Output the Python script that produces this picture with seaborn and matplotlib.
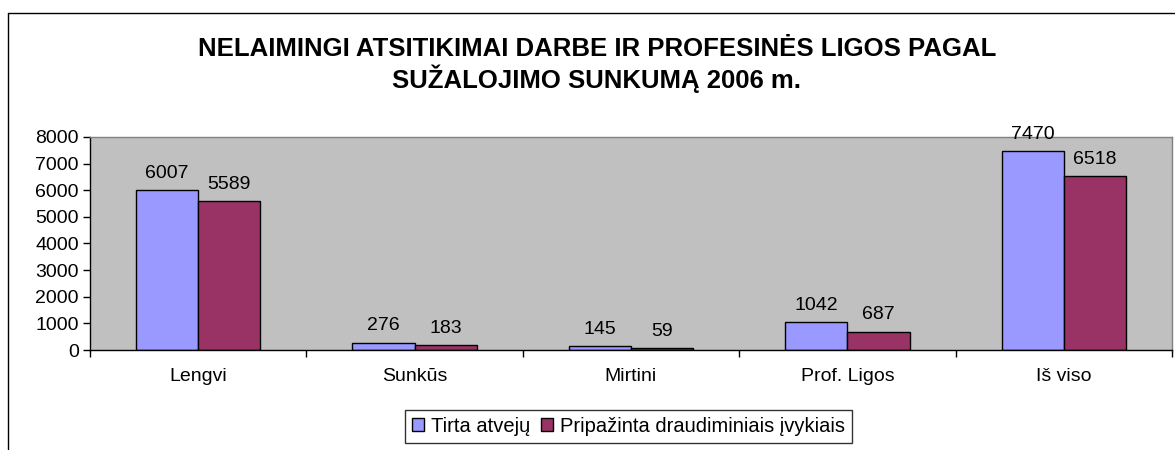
# Import libraries
import pandas as pd
import matplotlib.pyplot as plt
import matplotlib.lines as mlines
import seaborn as sns

# Chart data
categories = ['Lengvi', 'Sunkūs', 'Mirtini', 'Prof. Ligos', 'Iš viso']
series_names = ['Tirta atvejų', 'Pripažinta draudiminiais įvykiais']
tirta = [6007, 276, 145, 1042, 7470]
pripazinta = [5589, 183, 59, 687, 6518]
y_ticks = [0, 1000, 2000, 3000, 4000, 5000, 6000, 7000, 8000]
colors = ['#9999FF', '#993366']

df = pd.DataFrame({
    'Kategorija': categories * 2,
    'Serija': [series_names[0]] * len(categories) + [series_names[1]] * len(categories),
    'Reiksme': tirta + pripazinta,
})

sns.set_style('white')
plt.rcParams['font.family'] = ['Liberation Sans', 'DejaVu Sans']
plt.rcParams['text.color'] = 'black'
plt.rcParams['xtick.color'] = 'black'
plt.rcParams['ytick.color'] = 'black'

fig = plt.figure(figsize=(11.75, 4.5), dpi=100)
ax = fig.add_axes([0.0766, 0.2222, 0.9208, 0.4734])

sns.barplot(data=df, x='Kategorija', y='Reiksme', hue='Serija', order=categories,
            hue_order=series_names, palette=colors, width=0.575, gap=0,
            edgecolor='black', linewidth=1, saturation=1, ax=ax)

# Value labels above bars
for cont in ax.containers:
    ax.bar_label(cont, labels=[str(int(v)) for v in cont.datavalues],
                 padding=6, fontsize=14, color='black')

ax.set_facecolor('#C0C0C0')
ax.set_ylim(0, 8000)
ax.set_xlim(-0.5, len(categories) - 0.5)
ax.set_yticks(y_ticks)
ax.set_xlabel('')
ax.set_ylabel('')
ax.tick_params(axis='y', labelsize=14, length=5, width=1, colors='black', direction='out', left=True, pad=3)
ax.tick_params(axis='x', labelsize=14, length=0, pad=13, colors='black')
ax.set_xticks([i - 0.5 for i in range(len(categories) + 1)], minor=True)
ax.tick_params(axis='x', which='minor', length=5, width=1, color='black', bottom=True)

for side in ['top', 'right']:
    ax.spines[side].set_color('#808080')
    ax.spines[side].set_linewidth(1)
for side in ['left', 'bottom']:
    ax.spines[side].set_color('black')
    ax.spines[side].set_linewidth(1)

# Legend at the bottom
handles, labels = ax.get_legend_handles_labels()
ax.legend(handles, labels, loc='center', bbox_to_anchor=(0.535, 0.053),
          bbox_transform=fig.transFigure, ncol=2, frameon=True, fancybox=False,
          edgecolor='black', fontsize=14.5, handlelength=0.6, handleheight=0.6,
          handletextpad=0.35, columnspacing=0.5, borderpad=0.35)
ax.get_legend().get_frame().set_linewidth(1)

# Title
fig.text(0.508, 0.855, 'NELAIMINGI ATSITIKIMAI DARBE IR PROFESINĖS LIGOS PAGAL\nSUŽALOJIMO SUNKUMĄ 2006 m.',
         ha='center', va='center', fontsize=18.5, fontweight='bold', linespacing=1.15)

# Outer chart border
fig.add_artist(mlines.Line2D([0.0072, 0.0072], [0, 0.971], color='black', linewidth=1, transform=fig.transFigure))
fig.add_artist(mlines.Line2D([0.0072, 1], [0.971, 0.971], color='black', linewidth=1, transform=fig.transFigure))

plt.savefig('out.png', dpi=100, facecolor='white')
